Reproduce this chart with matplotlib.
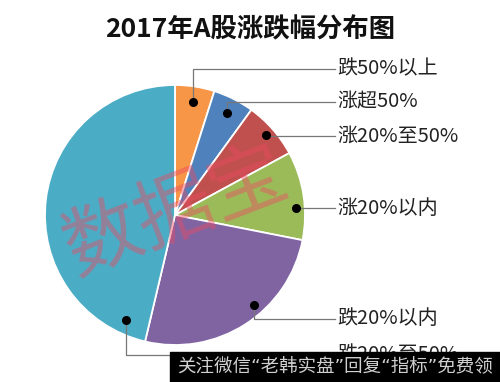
import numpy as np
import matplotlib.pyplot as plt
from matplotlib.patches import Rectangle

plt.rcParams['font.family'] = ['Noto Sans CJK SC', 'DejaVu Sans']

# slices, clockwise from 12 o'clock
labels = ['跌50%以上', '涨超50%', '涨20%至50%', '涨20%以内', '跌20%以内', '跌20%至50%']
values = [4.9, 5.1, 7.1, 11.0, 25.6, 46.3]
colors = ['#F79646', '#4F81BD', '#C0504D', '#9BBB59', '#8064A2', '#4BACC6']
title = '2017年A股涨跌幅分布图'
banner = '关注微信“老韩实盘”回复“指标”免费领'

W, H = 500, 382
fig = plt.figure(figsize=(5, 3.82), dpi=100)
ax = fig.add_axes([0, 0, 1, 1])

cx, cy, R = 175, H - 215, 130
wedges, _ = ax.pie(values, colors=colors, startangle=90, counterclock=False,
                   center=(cx, cy), radius=R, frame=True,
                   wedgeprops=dict(edgecolor='white', linewidth=1.3))
ax.set_xlim(0, W)
ax.set_ylim(0, H)
ax.set_aspect('equal')
ax.axis('off')

# where the marker dot sits inside each wedge (fraction of its arc, fraction of radius)
dot_frac = [0.5, 0.5, 0.5, 0.64, 0.41, 0.07]
dot_rad = [0.88, 0.88, 0.93, 0.93, 0.92, 0.89]
label_y = [69, 102, 136, 208, 319, 355]
line_end = 335

for w, lab, f, r, ly in zip(wedges, labels, dot_frac, dot_rad, label_y):
    a = np.deg2rad(w.theta1 + (w.theta2 - w.theta1) * (1 - f))
    dx, dy = cx + r * R * np.cos(a), cy + r * R * np.sin(a)
    ty = H - ly
    ax.plot([dx, dx, line_end], [dy, ty, ty], color='#777777', lw=0.9, zorder=3)
    ax.plot(dx, dy, 'o', color='black', ms=5.5, zorder=4)
    ax.text(line_end + 2, ty, lab, fontsize=14.4, fontweight='light', va='center',
            ha='left', color='#222222')

ax.text(250, H - 30, title, fontsize=19, fontweight='heavy', ha='center', va='center',
        color='#111111')

# watermark
ax.text(177, H - 213, '数据宝', fontsize=56, fontweight='light', rotation=21,
        ha='center', va='center', color='#EC4A62', alpha=0.45, zorder=5)

# bottom banner (half-width quotes from DejaVu)
ax.add_patch(Rectangle((170, 0), W - 170, H - 352, color='black', zorder=6))
t = ax.text(177, H - 367, banner, fontsize=13.3, color='#D0D0D0', ha='left', va='center',
            zorder=7, family=['DejaVu Sans', 'Noto Sans CJK SC'])
t.set_clip_on(True)

fig.savefig('out.png', dpi=100)
